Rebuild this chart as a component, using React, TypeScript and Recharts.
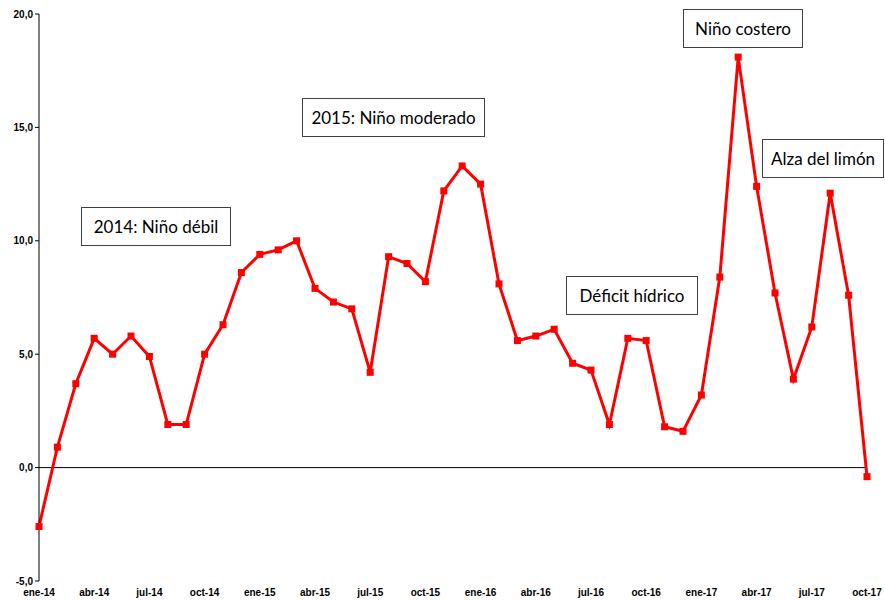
import React from 'react';
import { LineChart, Line, XAxis, YAxis, ReferenceLine } from 'recharts';

const months = [
    'ene-14', 'feb-14', 'mar-14', 'abr-14', 'may-14', 'jun-14', 'jul-14', 'ago-14', 'sep-14', 'oct-14', 'nov-14', 'dic-14',
    'ene-15', 'feb-15', 'mar-15', 'abr-15', 'may-15', 'jun-15', 'jul-15', 'ago-15', 'sep-15', 'oct-15', 'nov-15', 'dic-15',
    'ene-16', 'feb-16', 'mar-16', 'abr-16', 'may-16', 'jun-16', 'jul-16', 'ago-16', 'sep-16', 'oct-16', 'nov-16', 'dic-16',
    'ene-17', 'feb-17', 'mar-17', 'abr-17', 'may-17', 'jun-17', 'jul-17', 'ago-17', 'sep-17', 'oct-17',
];

const variacion = [
    -2.6, 0.9, 3.7, 5.7, 5.0, 5.8, 4.9, 1.9, 1.9, 5.0, 6.3, 8.6,
    9.4, 9.6, 10.0, 7.9, 7.3, 7.0, 4.2, 9.3, 9.0, 8.2, 12.2, 13.3,
    12.5, 8.1, 5.6, 5.8, 6.1, 4.6, 4.3, 1.9, 5.7, 5.6, 1.8, 1.6,
    3.2, 8.4, 18.1, 12.4, 7.7, 3.9, 6.2, 12.1, 7.6, -0.4,
];

const yTicks = [-5, 0, 5, 10, 15, 20];

const notas = [
    { texto: '2014: Niño débil', left: 81, top: 207, width: 150 },
    { texto: '2015: Niño moderado', left: 302, top: 98, width: 183 },
    { texto: 'Déficit hídrico', left: 566, top: 276, width: 132 },
    { texto: 'Niño costero', left: 683, top: 9, width: 120 },
    { texto: 'Alza del limón', left: 762, top: 139, width: 122 },
];

const data = months.map((m, i) => ({ mes: m, valor: variacion[i] }));

const SquareDot = (props: any) => {
    const { cx, cy } = props;
    if (cx == null || cy == null) return null;
    return <rect x={cx - 3.5} y={cy - 3.5} width={7} height={7} fill="#ff0000" />;
};

const tickStyle = { fontSize: 10, fontWeight: 'bold', fill: '#000', fontFamily: '"Liberation Sans", Arial, sans-serif' };

export default function App() {
    return (
        <div style={{ position: 'absolute', left: 0, top: 0, width: 885, height: 600, background: '#fff' }}>
            <LineChart width={885} height={600} data={data} margin={{ top: 14, right: 18, left: 0, bottom: 0 }}>
                <XAxis
                    dataKey="mes"
                    interval={2}
                    axisLine={false}
                    tickLine={false}
                    height={19}
                    tick={tickStyle}
                    tickMargin={2}
                />
                <YAxis
                    width={39}
                    domain={[-5, 20]}
                    ticks={yTicks}
                    tickFormatter={(v: number) => v.toFixed(1).replace('.', ',')}
                    axisLine={{ stroke: '#000' }}
                    tickLine={{ stroke: '#000' }}
                    tickSize={4}
                    tick={tickStyle}
                />
                <ReferenceLine y={0} stroke="#000" strokeWidth={1} />
                <Line
                    type="linear"
                    dataKey="valor"
                    stroke="#ff0000"
                    strokeWidth={3}
                    dot={<SquareDot />}
                    activeDot={false}
                    isAnimationActive={false}
                />
            </LineChart>
            {notas.map((n) => (
                <div
                    key={n.texto}
                    style={{
                        position: 'absolute',
                        left: n.left,
                        top: n.top,
                        width: n.width,
                        height: 39,
                        boxSizing: 'border-box',
                        border: '1px solid #404040',
                        background: '#fff',
                        display: 'flex',
                        alignItems: 'center',
                        justifyContent: 'center',
                        fontFamily: 'Lato, sans-serif',
                        fontSize: 17,
                        color: '#000',
                        whiteSpace: 'nowrap',
                    }}
                >
                    {n.texto}
                </div>
            ))}
        </div>
    );
}
